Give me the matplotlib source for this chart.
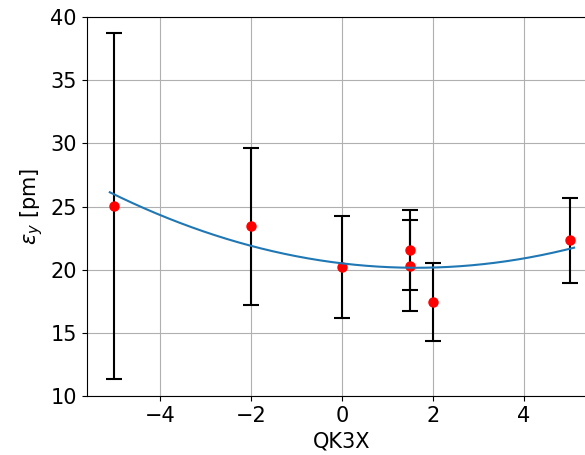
import numpy as np
import matplotlib
matplotlib.use("Agg")
import matplotlib.pyplot as plt

# measured points (QK3X setting -> vertical emittance)
qk3x = [-5, -2, 0, 1.5, 1.5, 2, 5]
eps_y = [25.05, 23.43, 20.2, 21.57, 20.3, 17.43, 22.33]
eps_err = [13.67, 6.2, 4.05, 3.15, 3.6, 3.1, 3.37]

# parabola fit coefficients (c2, c1, c0)
fit_coef = [0.132, -0.43, 20.5]
fit_range = (-5.1, 5.1)

fig = plt.figure(figsize=(5.85, 4.55), dpi=100)
ax = fig.add_axes([0.148, 0.1297, 0.873, 0.8329])

ax.errorbar(qk3x, eps_y, yerr=eps_err, fmt="none", ecolor="black",
            elinewidth=1.5, capsize=5.5, capthick=1.5, zorder=2)
ax.plot(qk3x, eps_y, "o", color="red", markersize=6.5, zorder=3)

xs = np.linspace(*fit_range, 200)
ax.plot(xs, np.polyval(fit_coef, xs), color="C0", linewidth=1.5, zorder=4)

ax.set_xlim(-5.61, 5.61)
ax.set_ylim(10, 40)
ax.set_xticks([-4, -2, 0, 2, 4])
ax.grid(True)
ax.set_axisbelow(True)
ax.tick_params(labelsize=15)
ax.set_xlabel("QK3X", fontsize=15)
ax.set_ylabel(r"$\varepsilon_y$ [pm]", fontsize=15)

fig.savefig("out.png", dpi=100)
